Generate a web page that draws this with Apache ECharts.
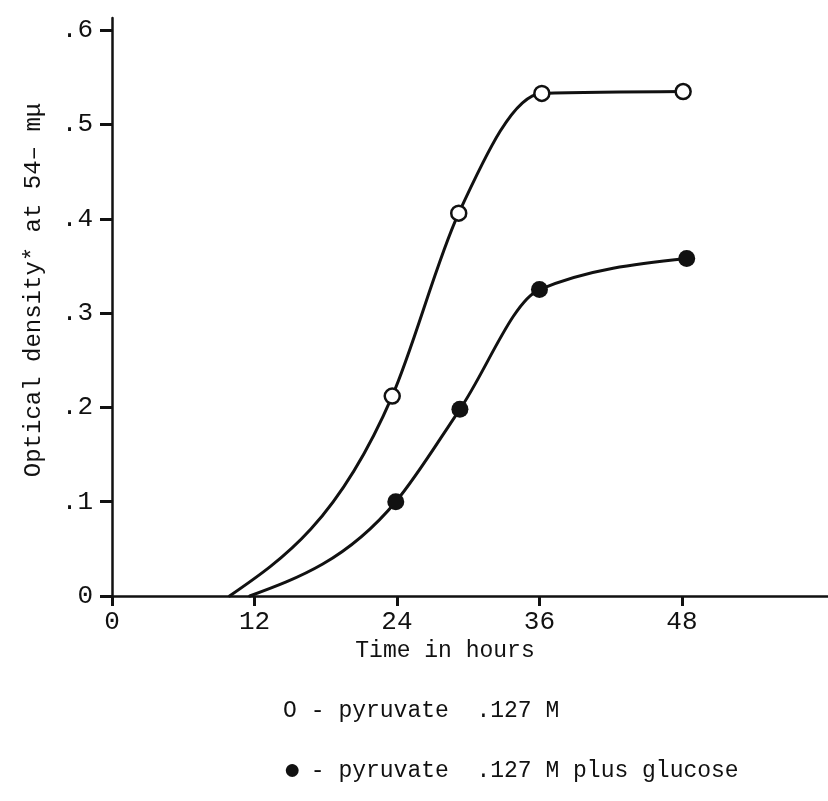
<!DOCTYPE html>
<html>
<head>
<meta charset="utf-8">
<script src="https://cdn.jsdelivr.net/npm/echarts@6/dist/echarts.min.js"></script>
<style>
  html, body { margin: 0; padding: 0; background: #fff; }
  #chart { width: 828px; height: 801px; }
</style>
</head>
<body>
<div id="chart"></div>
<script>
// values
const xTicks = [0, 12, 24, 36, 48];
const yTicks = [0, 0.1, 0.2, 0.3, 0.4, 0.5, 0.6];

// pyruvate .127 M (open circles)
const openHours = [23.6, 29.2, 36.2, 48.1];
const openOD = [0.212, 0.406, 0.533, 0.535];
const openStart = [9.9, 0];

// pyruvate .127 M plus glucose (filled circles)
const fillHours = [23.9, 29.3, 36.0, 48.4];
const fillOD = [0.100, 0.198, 0.325, 0.358];
const fillStart = [11.6, 0];

const legendMarks = ['O', '\u25CF'];
const legendLines = [' - pyruvate  .127 M', ' - pyruvate  .127 M plus glucose'];

const FONT = '"Liberation Mono", "DejaVu Sans Mono", monospace';
const INK = '#111';

const pairs = (xs, ys) => xs.map((x, i) => [x, ys[i]]);
const openPts = pairs(openHours, openOD);
const fillPts = pairs(fillHours, fillOD);

// hand-drawn curves: monotone cubic through the points (same idea as d3 curveMonotoneX)
function monotonePath(pts, api) {
  const n = pts.length;
  const h = [], s = [], m = [];
  for (let i = 0; i < n - 1; i++) {
    h[i] = pts[i + 1][0] - pts[i][0];
    s[i] = (pts[i + 1][1] - pts[i][1]) / h[i];
  }
  for (let i = 1; i < n - 1; i++) {
    const p = (s[i - 1] * h[i] + s[i] * h[i - 1]) / (h[i - 1] + h[i]);
    m[i] = (Math.sign(s[i - 1]) + Math.sign(s[i])) *
      Math.min(Math.abs(s[i - 1]), Math.abs(s[i]), 0.5 * Math.abs(p)) || 0;
  }
  m[0] = (3 * s[0] - m[1]) / 2;
  m[n - 1] = (3 * s[n - 2] - m[n - 2]) / 2;
  const c = v => api.coord(v);
  let p0 = c(pts[0]);
  let d = 'M' + p0[0] + ' ' + p0[1];
  for (let i = 0; i < n - 1; i++) {
    const [x0, y0] = pts[i], [x1, y1] = pts[i + 1], k = h[i] / 3;
    const a = c([x0 + k, y0 + m[i] * k]);
    const b = c([x1 - k, y1 - m[i + 1] * k]);
    const e = c([x1, y1]);
    d += ' C' + a[0] + ' ' + a[1] + ' ' + b[0] + ' ' + b[1] + ' ' + e[0] + ' ' + e[1];
  }
  return d;
}

function curveSeries(pts) {
  return {
    type: 'custom',
    data: pts,
    encode: { x: 0, y: 1 },
    renderItem: (params, api) => {
      if (params.dataIndex !== 0) return null;
      return {
        type: 'path',
        shape: { pathData: monotonePath(pts, api) },
        style: { stroke: INK, lineWidth: 3, fill: null, lineCap: 'round' }
      };
    }
  };
}

const chart = echarts.init(document.getElementById('chart'), null, { renderer: 'canvas' });

chart.setOption({
  backgroundColor: '#fff',
  animation: false,
  grid: { left: 112, right: 0, top: 18, bottom: 205 },
  xAxis: {
    type: 'value', min: 0, max: 60.3,
    name: 'Time in hours', nameLocation: 'middle', nameGap: 42,
    nameTextStyle: { fontFamily: FONT, fontSize: 23, color: INK, padding: [0, 50, 0, 0] },
    axisLine: { onZero: false, lineStyle: { color: INK, width: 2.5 } },
    axisTick: { show: true, length: 10, customValues: xTicks, lineStyle: { color: INK, width: 3 } },
    axisLabel: { customValues: xTicks, fontFamily: FONT, fontSize: 26, color: INK, margin: 13 },
    splitLine: { show: false }
  },
  yAxis: {
    type: 'value', min: 0, max: 0.613,
    name: 'Optical density* at 54\u2013 m\u03BC', nameLocation: 'middle', nameGap: 66, nameRotate: 90,
    nameTextStyle: { fontFamily: FONT, fontSize: 24, color: INK, padding: [0, 0, 0, 34] },
    axisLine: { show: true, lineStyle: { color: INK, width: 2.5 } },
    axisTick: { show: true, length: 12, customValues: yTicks, lineStyle: { color: INK, width: 3 } },
    axisLabel: {
      customValues: yTicks, fontFamily: FONT, fontSize: 26, color: INK, margin: 19,
      formatter: v => (v === 0 ? '0' : '.' + Math.round(v * 10))
    },
    splitLine: { show: false }
  },
  series: [
    curveSeries([openStart].concat(openPts)),
    curveSeries([fillStart].concat(fillPts)),
    {
      type: 'scatter', data: openPts, symbol: 'circle', symbolSize: 15, z: 5,
      itemStyle: { color: '#fff', borderColor: INK, borderWidth: 2.5, opacity: 1 }
    },
    {
      type: 'scatter', data: fillPts, symbol: 'circle', symbolSize: 17, z: 5,
      itemStyle: { color: INK, opacity: 1 }
    }
  ],
  graphic: legendLines.map((t, i) => ({
    type: 'text', left: 283, top: 699 + i * 57,
    style: {
      text: '{m|' + legendMarks[i] + '}' + t,
      font: '23px ' + FONT, fill: INK,
      rich: { m: { fontFamily: FONT, fontSize: i === 0 ? 23 : 30, width: 14, fill: INK } }
    }
  }))
});
</script>
</body>
</html>
